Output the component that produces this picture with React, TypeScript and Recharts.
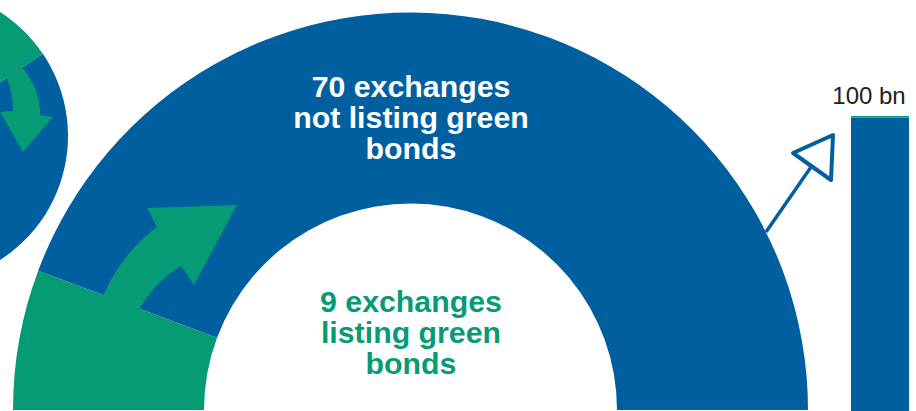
import { Bar, BarChart, LabelList, Pie, PieChart, XAxis, YAxis } from 'recharts';

const BLUE = '#005f9f';
const GREEN = '#079b75';
const FONT = '"Liberation Sans", Arial, sans-serif';

const WIDTH = 916;
const HEIGHT = 411;

// exchanges
const exchangeNames = ['listing green bonds', 'not listing green bonds'];
const exchangeCounts = [9, 70];
const exchangeColors = [GREEN, BLUE];

// bond volume column (bn)
const volumeLabel = '100 bn';
const volumeNotGreen = [99.5];
const volumeGreen = [0.5];

const blueLines = ['70 exchanges', 'not listing green', 'bonds'];
const greenLines = ['9 exchanges', 'listing green', 'bonds'];

const exchangeData = exchangeNames.map((name, i) => ({
    name,
    value: exchangeCounts[i],
    fill: exchangeColors[i],
}));

const volumeData = volumeNotGreen.map((v, i) => ({
    name: volumeLabel,
    notGreen: v,
    green: volumeGreen[i],
}));

const layer = { position: 'absolute', left: 0, top: 0 } as const;

const VolumeLabel = ({ x, y, width }: any) => (
    <text
        x={x + width / 2 - 11}
        y={y - 12}
        textAnchor="middle"
        fontFamily={FONT}
        fontSize={24}
        fill="#222222"
    >
        {volumeLabel}
    </text>
);

const TextBlock = ({ lines, baselines, color }: { lines: string[]; baselines: number[]; color: string }) => (
    <>
        {lines.map((line, i) => (
            <text
                key={line}
                x={411}
                y={baselines[i]}
                textAnchor="middle"
                fontFamily={FONT}
                fontWeight={700}
                fontSize={30.3}
                fill={color}
            >
                {line}
            </text>
        ))}
    </>
);

export default function App() {
    return (
        <div style={{ ...layer, width: WIDTH, height: HEIGHT, background: '#fff', overflow: 'hidden' }}>
            <div style={layer}>
                <PieChart width={WIDTH} height={HEIGHT} margin={{ top: 0, right: 0, bottom: 0, left: 0 }}>
                    {/* full circle cut off by the left edge */}
                    <Pie
                        data={exchangeData}
                        dataKey="value"
                        cx={-79}
                        cy={136}
                        innerRadius={0}
                        outerRadius={147}
                        startAngle={34}
                        endAngle={394}
                        stroke="none"
                        isAnimationActive={false}
                    />
                    <Pie
                        data={exchangeData}
                        dataKey="value"
                        cx={410.5}
                        cy={410}
                        innerRadius={206.5}
                        outerRadius={397.5}
                        startAngle={180}
                        endAngle={0}
                        stroke="none"
                        isAnimationActive={false}
                    />
                </PieChart>
            </div>
            <div style={layer}>
                <BarChart
                    width={WIDTH}
                    height={HEIGHT}
                    data={volumeData}
                    margin={{ top: 116, right: 7, bottom: 0, left: 851 }}
                    barCategoryGap={0}
                >
                    <XAxis dataKey="name" hide />
                    <YAxis hide domain={[0, 100]} />
                    <Bar dataKey="notGreen" stackId="v" fill={BLUE} isAnimationActive={false} />
                    <Bar dataKey="green" stackId="v" fill={GREEN} isAnimationActive={false}>
                        <LabelList dataKey="green" content={VolumeLabel} />
                    </Bar>
                </BarChart>
            </div>
            <svg width={WIDTH} height={HEIGHT} style={layer}>
                {/* green arrows */}
                <path
                    d="M22 67 Q41 90 40 115 L53 117 L23 152 L0 112 L13 111 Q13 92 6 77 Z"
                    fill={GREEN}
                />
                <path
                    d="M100 300 L104 294 Q122 253 157 227 L147 208 L237 205 L194 285 L181 266 Q155 282 140 308 L135 315 Z"
                    fill={GREEN}
                />
                {/* outline arrow towards the column */}
                <line x1={766} y1={232} x2={811} y2={167} stroke={BLUE} strokeWidth={3.5} />
                <polygon
                    points="833,135 793,153 831,180"
                    fill="#fff"
                    stroke={BLUE}
                    strokeWidth={4}
                    strokeLinejoin="round"
                />
                <TextBlock lines={blueLines} baselines={[97, 128, 159]} color="#ffffff" />
                <TextBlock lines={greenLines} baselines={[312, 343, 374]} color={GREEN} />
            </svg>
        </div>
    );
}
